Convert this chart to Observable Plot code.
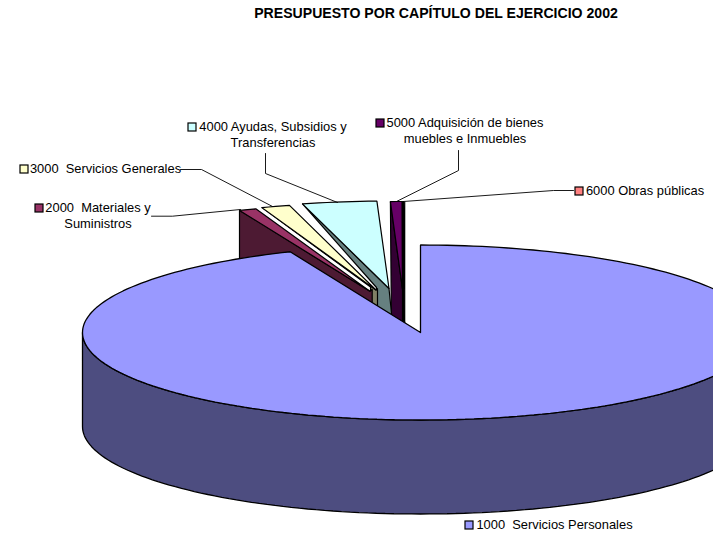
<!DOCTYPE html>
<html>
<head>
<meta charset="utf-8">
<script src="https://cdn.jsdelivr.net/npm/d3@7"></script>
<script src="https://cdn.jsdelivr.net/npm/@observablehq/plot@0.6"></script>
<style>
html,body{margin:0;padding:0;background:#fff}
svg text{white-space:pre}
</style>
</head>
<body>
<div id="chart"></div>
<script>
// DATA
const categories = [
  "1000  Servicios Personales",
  "2000  Materiales y\nSuministros",
  "3000  Servicios Generales",
  "4000 Ayudas, Subsidios y\nTransferencias",
  "5000 Adquisición de bienes\nmuebles e Inmuebles",
  "6000 Obras públicas"
];
const shares = [93.7, 0.82, 1.36, 3.55, 0.55, 0.02];
const titleText = "PRESUPUESTO POR CAPÍTULO DEL EJERCICIO 2002";

// STYLE
const topColors  = ["#9999FF", "#993366", "#FFFFCC", "#CCFFFF", "#660066", "#FF8080"];
const sideColors = ["#4D4D80", "#4D1A33", "#808066", "#668080", "#330033", "#000000"];
const fontFamily = "'Liberation Sans', Arial, sans-serif";

// LAYOUT
const W = 713, H = 534;
const rx = 338, ry = 87.5, depth = 94;
const centers = [[420,332],[369.4,290.7],[375.5,289.5],[388.5,288],[402,288.5],[403,288.5]];
// visible part of each exploded wedge's inner wall, relative to the wedge tip
const wallPoints = [
  null,
  [[2.3,-2],[2.3,41],[-130.4,41],[-130.4,-80.7]],
  [[1.5,-1.5],[1.5,41],[-5.5,41],[-5.5,-3]],
  [[2.5,25],[2.5,41],[-12.5,41],[-12.5,-1]],
  [[2.5,41],[-11,41]],
  [[1.2,-87.5],[1.2,41],[-1,41],[-1,-87.5]]
];
const drawOrder = [4,5,3,2,1];
const labelAnchors = [[554,525],[97.5,208],[105,169],[272.5,127],[464.5,123],[644.5,191]];
const keyBoxes = [[465,521],[35,204],[20,165],[188,123],[376,119],[575,187]];
const keySize = 8;
const leaders = [
  null,
  [[151,215.7],[172,215.7],[240,209]],
  [[180,169],[201,169],[272,206]],
  [[265,153],[265,173],[337,202]],
  [[458,150],[458,170],[396,201]],
  [[573,190],[553,190],[403,201]]
];

// GEOMETRY derived from the values
const total = d3.sum(shares);
let cum = 0;
const spans = shares.map(v => { const a0 = cum/total*360; cum += v; return [a0, cum/total*360]; });
const rim = (c, a, dy = 0) => {
  const t = a*Math.PI/180;
  return [c[0] + rx*Math.sin(t), c[1] - ry*Math.cos(t) + dy];
};
const arc = (c, a0, a1, dy = 0) => {
  const n = Math.max(2, Math.ceil(Math.abs(a1-a0)/1.5));
  return d3.range(n+1).map(i => rim(c, a0 + (a1-a0)*i/n, dy));
};
const close = p => [...p, p[0]];
const poly = (pts, fill, sw = 1.2) => Plot.line(close(pts), {
  x: d => d[0], y: d => d[1], fill, stroke: "#000", strokeWidth: sw,
  curve: "linear", clip: true, strokeLinejoin: "miter"
});

const marks = [];
for (const i of drawOrder) {
  const c = centers[i], [a0, a1] = spans[i];
  const R = rim(c, a0);
  const wall = [R, c, ...wallPoints[i].map(o => [c[0]+o[0], c[1]+o[1]])];
  marks.push(poly(wall, sideColors[i]));
  marks.push(poly([c, ...arc(c, a0, a1)], topColors[i]));
}
// main slice: outer wall, then top
{
  const c = centers[0], [a0, a1] = spans[0];
  marks.push(poly([...arc(c, 90, 270), ...arc(c, 270, 90, depth)], sideColors[0], 1.3));
  marks.push(poly([c, ...arc(c, a0, a1)], topColors[0], 1.3));
}
// leader lines
leaders.forEach(l => { if (l) marks.push(Plot.line(l, {x: d => d[0], y: d => d[1], stroke: "#000", strokeWidth: 0.9, curve: "linear"})); });
// legend keys
const idx = d3.range(categories.length);
marks.push(Plot.rect(idx, {
  x1: i => keyBoxes[i][0], x2: i => keyBoxes[i][0]+keySize,
  y1: i => keyBoxes[i][1], y2: i => keyBoxes[i][1]+keySize,
  fill: i => topColors[i], stroke: "#000", strokeWidth: 1.2
}));
// labels
marks.push(Plot.text(idx, {
  x: i => labelAnchors[i][0], y: i => labelAnchors[i][1],
  text: i => categories[i], textAnchor: "middle", lineAnchor: "top", dy: -7.5,
  lineHeight: 1.24, fontSize: 12.9, fontFamily, fill: "#000"
}));
marks.push(Plot.text([titleText], {
  x: () => 435.5, y: () => 13, text: d => d, fontSize: 14.1, fontWeight: "bold", fontFamily, fill: "#000"
}));

const chart = Plot.plot({
  width: W, height: H, margin: 0,
  x: {type: "linear", domain: [0, W], range: [0, W], axis: null},
  y: {type: "linear", domain: [0, H], range: [0, H], axis: null},
  color: {type: "identity"},
  style: {background: "#fff", overflow: "hidden"},
  marks
});
document.getElementById("chart").append(chart);
</script>
</body>
</html>
